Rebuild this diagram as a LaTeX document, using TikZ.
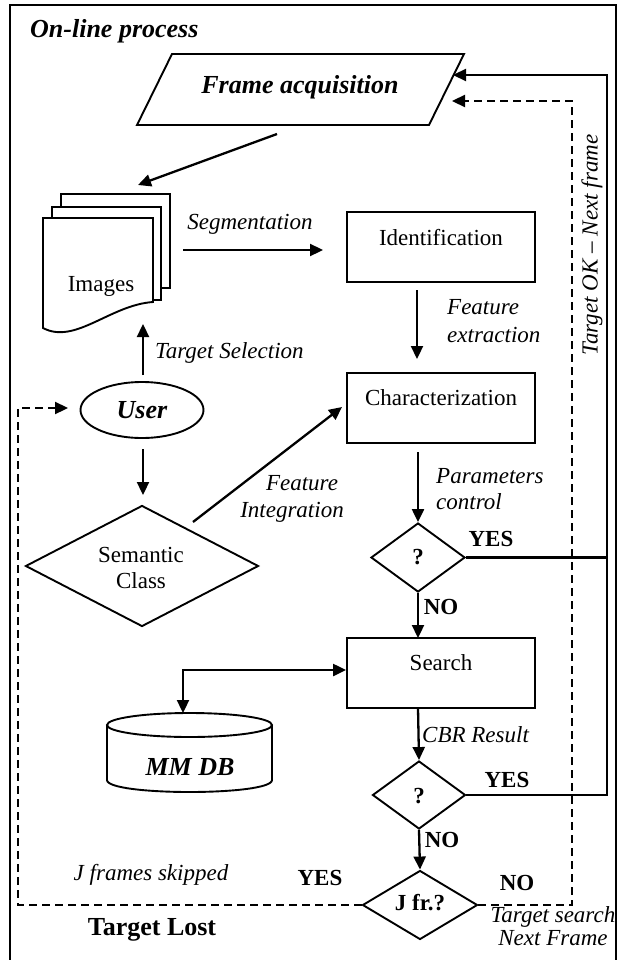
\documentclass[tikz,border=0pt]{standalone}
\usepackage{fontspec}
\setmainfont{Liberation Serif}
\usetikzlibrary{shapes.geometric,arrows.meta}

\tikzset{
  txt/.style={font=\fontsize{23}{27}\selectfont, inner sep=0pt},
  itx/.style={font=\fontsize{23}{27}\selectfont\itshape, inner sep=0pt},
  btx/.style={font=\fontsize{23}{27}\selectfont\bfseries, inner sep=0pt},
  bix/.style={font=\fontsize{26}{30}\selectfont\bfseries\itshape, inner sep=0pt},
  blg/.style={font=\fontsize{26}{30}\selectfont\bfseries, inner sep=0pt},
  procbox/.style={draw, line width=1.9pt, minimum width=188pt, minimum height=70pt, inner sep=0pt},
  decision/.style={draw, diamond, line width=1.9pt, inner sep=0pt},
  outline/.style={draw, line width=1.9pt, fill=white},
  tip/.style={-{Triangle[length=13pt,width=12pt]}},
  flow/.style={line width=2.3pt, tip},
  solidret/.style={line width=2.3pt},
  dashret/.style={line width=2.3pt, dash pattern=on 8pt off 5pt},
}

\begin{document}
\begin{tikzpicture}[x=1pt, y=-1pt, line join=miter]
\useasboundingbox (0,0) rectangle (622,960);

% outer frame
\draw[line width=1.7pt] (10,5) rectangle (616,970);
\node[bix, anchor=west] (title) at (30,31) {On-line process};

% frame acquisition (parallelogram)
\draw[outline] (137,125) -- (172,54) -- (464,54) -- (429,125) -- cycle;
\node[bix] (fa) at (300,87) {Frame acquisition};
\coordinate (fa-in) at (453,75);
\coordinate (fa-in2) at (452,101);
\coordinate (fa-out) at (277,134);

% stack of images
\draw[outline] (61,194) rectangle (170,288);
\draw[outline] (52,207) rectangle (161,300);
\draw[outline] (43,218) -- (153,218) -- (153,302)
  .. controls (110,305) and (75,345) .. (43,328) -- cycle;
\node[txt] (img) at (101,286) {Images};
\coordinate (img-in) at (138,185);
\coordinate (img-out) at (183,250);
\coordinate (img-bot) at (143,324);

% process boxes
\node[procbox] (idf) at (441,247) {};
\node[txt] (idf-t) at (441,238) {Identification};
\node[procbox] (chr) at (441,408) {};
\node[txt] (chr-t) at (441,398) {Characterization};
\node[procbox] (srch) at (441,673) {};
\node[txt] (srch-t) at (441,663) {Search};

% user
\node[draw, ellipse, line width=1.9pt, minimum width=123pt, minimum height=56pt,
      inner sep=0pt, font=\fontsize{26}{30}\selectfont\bfseries\itshape] (user) at (142,410) {User};

% semantic class
\node[decision, minimum width=233pt, minimum height=121pt] (sem) at (142,566) {};
\node[txt, align=center] (sem-t) at (141,568) {Semantic\\[-1pt]Class};

% decisions
\node[decision, minimum width=94pt, minimum height=69pt] (q1) at (418,557.5) {};
\node[btx] (q1-t) at (418,557) {?};
\node[decision, minimum width=93pt, minimum height=68pt] (q2) at (419,795) {};
\node[btx] (q2-t) at (419,796) {?};
\node[decision, minimum width=115pt, minimum height=69pt] (jfr) at (420,905) {};
\node[btx] (jfr-t) at (420,903) {J fr.?};

% multimedia database (cylinder)
\draw[outline] (107,725) -- (107,780) .. controls (107,796) and (272,796) .. (272,780) -- (272,725);
\draw[outline] (189.5,725) ellipse [x radius=82.5, y radius=12];
\node[bix] (db) at (190,767) {MM DB};
\coordinate (db-in) at (183,713);

% main flow
\draw[flow] (fa-out) -- (img-in);
\draw[flow] (img-out) -- (323,250) coordinate (idf-in);
\node[itx] (seg) at (250,224) {Segmentation};
\draw[flow] (417,290) coordinate (idf-out) -- (417,359) coordinate (chr-in);
\node[itx, anchor=west] (fx1) at (447,307) {Feature};
\node[itx, anchor=west] (fx2) at (447,335) {extraction};
\draw[flow] (143,375) coordinate (user-up) -- (img-bot);
\node[itx, anchor=west] (tsel) at (155,353) {Target Selection};
\draw[flow] (143,449) coordinate (user-down) -- (143,495) coordinate (sem-in);
\draw[flow] (193,522) coordinate (sem-out) -- (342,407) coordinate (chr-side);
\node[itx] (fi1) at (302,483) {Feature};
\node[itx] (fi2) at (292,512) {Integration};
\draw[flow] (418,452) coordinate (chr-out) -- (q1.north);
\node[itx, anchor=west] (pc1) at (436,476) {Parameters};
\node[itx, anchor=west] (pc2) at (436,502) {control};
\draw[flow] (q1.south) -- (418,638) coordinate (srch-in);
\node[btx] (no1) at (441,607) {NO};
\node[btx] (yes1) at (491,539) {YES};
\draw[line width=2.3pt, {Triangle[length=13pt,width=12pt]}-{Triangle[length=13pt,width=12pt]}]
  (db-in) |- ([yshift=3pt]srch.west);
\draw[flow] (418,708) coordinate (srch-out) -- (q2.north);
\node[itx, anchor=west] (cbr) at (422,735) {CBR Result};
\node[btx] (yes2) at (507,780) {YES};
\draw[flow] (q2.south) -- (jfr.north);
\node[btx] (no2) at (442,840) {NO};

% return paths
\draw[solidret] (q1.east) -- (607,557.5);
\draw[solidret, tip] (q2.east) -- (607,795) -- (607,75) -- (fa-in);
\node[itx, rotate=90] (tok) at (592,245) {Target OK -- Next frame};
\draw[dashret, tip] (jfr.east) -- (572,905) -- (572,101) -- (fa-in2);
\draw[dashret, tip] (jfr.west) -- (18,905) -- (18,408) -- (68,408) coordinate (user-in);

% bottom labels
\node[itx] (jskip) at (151,875) {J frames skipped};
\node[btx] (yes3) at (320,878) {YES};
\node[btx] (no3) at (517,883) {NO};
\node[blg] (lost) at (152,930) {Target Lost};
\node[itx] (ts1) at (553,917) {Target search};
\node[itx] (ts2) at (553,938) {Next Frame};
\end{tikzpicture}
\end{document}
